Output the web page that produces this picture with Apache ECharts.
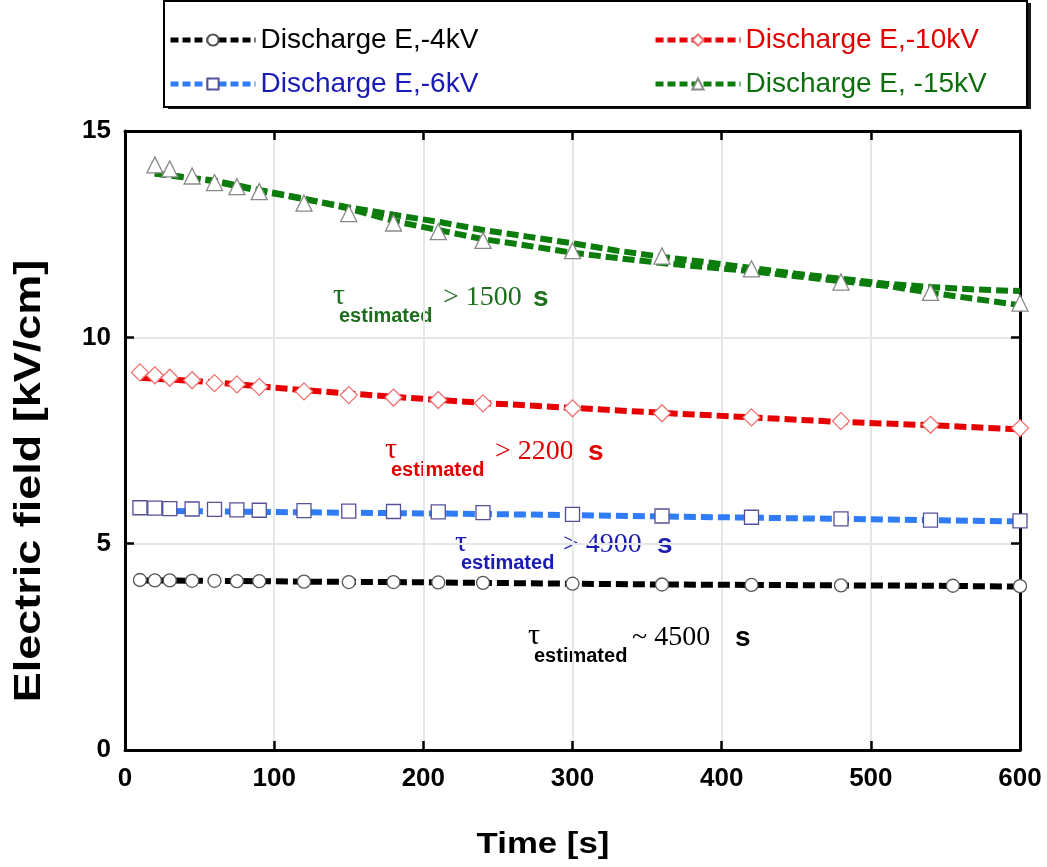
<!DOCTYPE html>
<html>
<head>
<meta charset="utf-8">
<script src="https://cdn.jsdelivr.net/npm/echarts@6/dist/echarts.min.js"></script>
<style>html,body{margin:0;padding:0;background:#fff}#c{width:1047px;height:867px}</style>
</head>
<body>
<div id="c"></div>
<script>
// ---- data ----
const seriesNames = ['Discharge E,-4kV', 'Discharge E,-6kV', 'Discharge E,-10kV', 'Discharge E, -15kV'];
const timesMarkers = [10, 20, 30, 45, 60, 75, 90, 120, 150, 180, 210, 240, 300, 360, 420, 480, 540, 600];
const timesBlack = [10, 20, 30, 45, 60, 75, 90, 120, 150, 180, 210, 240, 300, 360, 420, 480, 555, 600];
const timesGreen = [20, 30, 45, 60, 75, 90, 120, 150, 180, 210, 240, 300, 360, 420, 480, 540, 600];
const fieldBlack = [4.12, 4.11, 4.11, 4.10, 4.10, 4.09, 4.09, 4.08, 4.07, 4.07, 4.06, 4.05, 4.03, 4.01, 4.00, 3.99, 3.98, 3.97];
const fieldBlue  = [5.87, 5.86, 5.85, 5.84, 5.83, 5.82, 5.81, 5.80, 5.79, 5.78, 5.77, 5.75, 5.71, 5.67, 5.64, 5.60, 5.57, 5.55];
const fieldRed   = [9.15, 9.08, 9.02, 8.96, 8.89, 8.86, 8.80, 8.69, 8.60, 8.54, 8.48, 8.40, 8.28, 8.16, 8.06, 7.97, 7.88, 7.80];
const fieldGreen = [14.18, 14.08, 13.91, 13.75, 13.65, 13.53, 13.25, 13.00, 12.77, 12.56, 12.35, 12.10, 11.97, 11.66, 11.34, 11.09, 10.83];

// dashed trend lines
const lineTimes = [10, 60, 120, 180, 240, 300, 360, 420, 480, 540, 600];
const lineBlack = [4.11, 4.10, 4.08, 4.07, 4.05, 4.03, 4.01, 4.00, 3.99, 3.98, 3.96];
const lineBlue  = [5.80, 5.78, 5.76, 5.74, 5.72, 5.69, 5.66, 5.63, 5.60, 5.57, 5.54];
const lineRed   = [9.02, 8.91, 8.72, 8.56, 8.41, 8.29, 8.17, 8.06, 7.95, 7.87, 7.77];
const lineTimesGreen = [20, 60, 90, 120, 150, 180, 210, 240, 270, 300, 330, 360, 390, 420, 450, 480, 510, 540, 570, 600];
const lineGreenUpper = [13.97, 13.78, 13.55, 13.35, 13.15, 12.97, 12.80, 12.60, 12.44, 12.28, 12.10, 11.95, 11.82, 11.68, 11.54, 11.42, 11.30, 11.22, 11.16, 11.12];
const lineGreenLower = [13.97, 13.80, 13.57, 13.36, 13.12, 12.82, 12.60, 12.38, 12.22, 12.05, 11.92, 11.80, 11.70, 11.60, 11.48, 11.36, 11.25, 11.08, 10.93, 10.78];

const xTicks = {min: 0, max: 600, interval: 100};
const yTicks = {min: 0, max: 15, interval: 5};

const notes = [
  {x: 333, y: 298, color: '#1d6e1d', rel: '> 1500', valDx: 110, sDx: 200},
  {x: 385, y: 452, color: '#e00000', rel: '> 2200', valDx: 110, sDx: 203},
  {x: 455, y: 545, color: '#1a1ab4', rel: '> 4900', valDx: 108, sDx: 202},
  {x: 528, y: 638, color: '#000000', rel: '~ 4500', valDx: 104, sDx: 207}
];

// ---- styles ----
const colBlack = '#000000', colBlue = '#2f7cf6', colRed = '#e60000', colGreen = '#0c7d0c';
const textCols = ['#000000', '#1a1ab4', '#e00000', '#0c6e0c'];
const dash = [12, 5];
const zip = (a, b) => a.map((v, i) => [v, b[i]]);

function markerSeries(name, xs, ys, symbol, size, border) {
  return {
    type: 'line', name, data: zip(xs, ys), symbol, symbolSize: size,
    itemStyle: {color: '#ffffff', borderColor: border, borderWidth: 1.3},
    lineStyle: {opacity: 0, width: 0}, z: 5, animation: false
  };
}
function trend(xs, ys, color) {
  return {
    type: 'line', data: zip(xs, ys), symbol: 'none', silent: true,
    lineStyle: {color, width: 6, type: dash, cap: 'butt'}, z: 3, animation: false
  };
}

const axisLineStyle = {color: '#000', width: 3};
const tickStyle = {show: true, inside: true, length: 9, lineStyle: {color: '#000', width: 2.5}};
const labelStyle = {fontSize: 26, fontWeight: 'bold', color: '#000', fontFamily: 'Liberation Sans'};
const gridLine = {show: true, lineStyle: {color: '#e6e6e6', width: 2}};

function legendItem(name, left, top, color, lineColor) {
  return {
    data: [name], left, top, orient: 'horizontal', itemWidth: 85, itemHeight: 14, itemGap: 4, padding: 0,
    textStyle: {fontSize: 28, color, fontFamily: 'Liberation Sans'},
    lineStyle: {color: lineColor, width: 5, type: [8, 4], opacity: 1},
    selectedMode: false
  };
}

function noteGraphic(n) {
  return {
    type: 'group', children: [
      {type: 'text', x: n.x, y: n.y - 2, style: {text: 'τ', fontSize: 30, fontFamily: 'Liberation Serif', fill: n.color, verticalAlign: 'middle', align: 'left'}},
      {type: 'text', x: n.x + 6, y: n.y + 18, style: {text: 'estimated', fontSize: 20, fontWeight: 'bold', fontFamily: 'Liberation Sans', fill: n.color, verticalAlign: 'middle', align: 'left'}},
      {type: 'text', x: n.x + n.valDx, y: n.y, style: {text: n.rel, fontSize: 28, fontFamily: 'Liberation Serif', fill: n.color, verticalAlign: 'middle', align: 'left'}},
      {type: 'text', x: n.x + n.sDx, y: n.y, style: {text: 's', fontSize: 28, fontWeight: 'bold', fontFamily: 'Liberation Sans', fill: n.color, verticalAlign: 'middle', align: 'left'}}
    ]
  };
}

const chart = echarts.init(document.getElementById('c'), null, {renderer: 'canvas'});
chart.setOption({
  animation: false,
  backgroundColor: '#ffffff',
  grid: {left: 125, right: 27, top: 131, bottom: 117},
  xAxis: [
    Object.assign({type: 'value', position: 'bottom', axisLine: {show: true, onZero: false, lineStyle: axisLineStyle},
      axisTick: tickStyle, axisLabel: Object.assign({margin: 16}, labelStyle), splitLine: gridLine}, xTicks),
    Object.assign({type: 'value', position: 'top', axisLine: {show: true, onZero: false, lineStyle: axisLineStyle},
      axisTick: tickStyle, axisLabel: {show: false}, splitLine: {show: false}}, xTicks)
  ],
  yAxis: [
    Object.assign({type: 'value', position: 'left', axisLine: {show: true, onZero: false, lineStyle: axisLineStyle},
      axisTick: tickStyle, axisLabel: Object.assign({margin: 14}, labelStyle), splitLine: gridLine}, yTicks),
    Object.assign({type: 'value', position: 'right', axisLine: {show: true, onZero: false, lineStyle: axisLineStyle},
      axisTick: tickStyle, axisLabel: {show: false}, splitLine: {show: false}}, yTicks)
  ],
  legend: [
    legendItem(seriesNames[0], 168, 26, textCols[0], colBlack),
    legendItem(seriesNames[1], 168, 70, textCols[1], colBlue),
    legendItem(seriesNames[2], 653, 26, '#e00000', colRed),
    legendItem(seriesNames[3], 653, 70, textCols[3], colGreen)
  ],
  graphic: [
    {type: 'rect', z: -2, shape: {x: 168, y: 3, width: 863, height: 106}, style: {fill: '#1a1a1a'}},
    {type: 'rect', z: -1, shape: {x: 164, y: 1, width: 863, height: 106},
      style: {fill: '#fff', stroke: '#000', lineWidth: 2}},
    {type: 'text', x: 30, y: 481, rotation: Math.PI / 2, scaleX: 1.25,
      style: {text: 'Electric field [kV/cm]', fontSize: 36, fontWeight: 'bold', fontFamily: 'Liberation Sans', fill: '#000', align: 'center', verticalAlign: 'middle'}},
    {type: 'text', x: 543, y: 845, scaleX: 1.16,
      style: {text: 'Time [s]', fontSize: 30, fontWeight: 'bold', fontFamily: 'Liberation Sans', fill: '#000', align: 'center', verticalAlign: 'middle'}}
  ].concat(notes.map(noteGraphic)),
  series: [
    trend(lineTimes, lineBlack, colBlack),
    trend(lineTimes, lineBlue, colBlue),
    trend(lineTimes, lineRed, colRed),
    trend(lineTimesGreen, lineGreenUpper, colGreen),
    trend(lineTimesGreen, lineGreenLower, colGreen),
    markerSeries(seriesNames[0], timesBlack, fieldBlack, 'circle', 13, '#555'),
    markerSeries(seriesNames[1], timesMarkers, fieldBlue, 'rect', 14, '#55509a'),
    markerSeries(seriesNames[2], timesMarkers, fieldRed, 'diamond', 17, '#f07070'),
    markerSeries(seriesNames[3], timesGreen, fieldGreen, 'triangle', 16, '#888')
  ]
});
</script>
</body>
</html>
